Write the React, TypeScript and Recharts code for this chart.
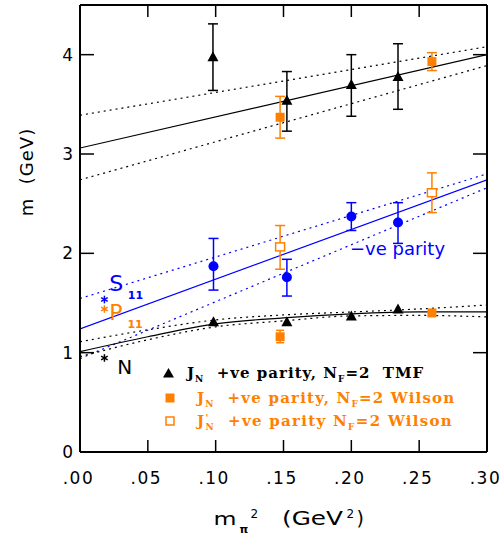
import React from 'react';
import { ComposedChart, XAxis, YAxis, Scatter, Line, ErrorBar, ReferenceDot, Legend } from 'recharts';

// ---------- axes ----------
const xTicks = [0, 0.05, 0.1, 0.15, 0.2, 0.25, 0.3];
const xTickLabels = ['.00', '.05', '.10', '.15', '.20', '.25', '.30'];
const yTicks = [0, 1, 2, 3, 4];
const yTickLabels = ['0', '1', '2', '3', '4'];

// ---------- data (m_pi^2 in GeV^2, m in GeV) ----------
// upper states, TMF (black triangles)
const tmfUpX = [0.098, 0.1525, 0.2, 0.2344];
const tmfUpM = [3.98, 3.54, 3.7, 3.78];
const tmfUpLo = [3.64, 3.23, 3.38, 3.45];
const tmfUpHi = [4.31, 3.83, 4.0, 4.11];

// upper states, Wilson (orange filled squares)
const wilUpX = [0.1475, 0.2594];
const wilUpM = [3.37, 3.93];
const wilUpLo = [3.16, 3.84];
const wilUpHi = [3.58, 4.02];

// -ve parity (blue circles)
const negX = [0.0984, 0.1525, 0.2, 0.2344];
const negM = [1.87, 1.76, 2.37, 2.31];
const negLo = [1.63, 1.57, 2.23, 2.1];
const negHi = [2.15, 1.94, 2.51, 2.51];

// J'_N +ve parity Wilson (orange open squares)
const wilPrimeX = [0.1475, 0.2594];
const wilPrimeM = [2.065, 2.61];
const wilPrimeLo = [1.84, 2.41];
const wilPrimeHi = [2.28, 2.81];

// J_N +ve parity TMF, nucleon (black triangles)
const tmfLowX = [0.0984, 0.1525, 0.2, 0.2344];
const tmfLowM = [1.31, 1.31, 1.37, 1.44];

// J_N +ve parity Wilson, nucleon (orange filled squares)
const wilLowX = [0.1475, 0.2594];
const wilLowM = [1.16, 1.4];
const wilLowLo = [1.1, 1.37];
const wilLowHi = [1.225, 1.43];

// physical points
const physX = [0.018];
const physS11 = [1.535];
const physP11 = [1.44];
const physN = [0.947];

// fits
const lineEndsX = [0, 0.3];
const upFit = [3.06, 4.0];
const upFitHi = [3.39, 4.08];
const upFitLo = [2.74, 3.89];
const negFit = [1.24, 2.74];
const negFitHi = [1.545, 2.8];
const negFitLo = [0.94, 2.66];
const curveX = [0, 0.05, 0.1, 0.15, 0.2, 0.25, 0.3];
const lowFit = [1.01, 1.16, 1.29, 1.35, 1.39, 1.41, 1.41];
const lowFitHi = [1.11, 1.23, 1.33, 1.38, 1.41, 1.44, 1.48];
const lowFitLo = [0.96, 1.13, 1.26, 1.32, 1.37, 1.375, 1.36];

// ---------- helpers ----------
const pts = (xs: number[], ms: number[], lo?: number[], hi?: number[]) =>
  xs.map((x, i) => ({ x, y: ms[i], err: lo && hi ? [ms[i] - lo[i], hi[i] - ms[i]] : [0, 0] }));
const line = (xs: number[], ys: number[]) => xs.map((x, i) => ({ x, y: ys[i] }));

const BLACK = '#000000';
const ORANGE = '#ff8000';
const BLUE = '#0000ff';
const SANS = '"DejaVu Sans", sans-serif';
const SERIF = '"DejaVu Serif", serif';

const Tri = (p: any) => (
  <polygon points={`${p.cx},${p.cy - 5.5} ${p.cx - 5.5},${p.cy + 4.5} ${p.cx + 5.5},${p.cy + 4.5}`} fill={BLACK} />
);
const Dot = (p: any) => <circle cx={p.cx} cy={p.cy} r={5} fill={BLUE} />;
const FSq = (p: any) => <rect x={p.cx - 4.5} y={p.cy - 4.5} width={9} height={9} fill={ORANGE} />;
const OSq = (p: any) => (
  <rect x={p.cx - 4.5} y={p.cy - 4} width={9} height={8} fill="#fff" stroke={ORANGE} strokeWidth={1.5} />
);
const star = (color: string) => (p: any) => {
  const r = 3.8;
  const dx = r * 0.866;
  const dy = r * 0.5;
  return (
    <g stroke={color} strokeWidth={1.5}>
      <line x1={p.cx} y1={p.cy - r} x2={p.cx} y2={p.cy + r} />
      <line x1={p.cx - dx} y1={p.cy - dy} x2={p.cx + dx} y2={p.cy + dy} />
      <line x1={p.cx - dx} y1={p.cy + dy} x2={p.cx + dx} y2={p.cy - dy} />
    </g>
  );
};

const BottomTick = (p: any) => (
  <g>
    <line x1={p.x} x2={p.x} y1={p.y} y2={p.y - 12} stroke={BLACK} strokeWidth={1.5} />
    <text x={p.x - 1.5} y={p.y + 32} textAnchor="middle" fontFamily={SANS} fontSize={17} letterSpacing={1.5} fill={BLACK}>
      {xTickLabels[xTicks.indexOf(p.payload.value)]}
    </text>
  </g>
);
const TopTick = (p: any) => <line x1={p.x} x2={p.x} y1={p.y} y2={p.y + 12} stroke={BLACK} strokeWidth={1.5} />;
const LeftTick = (p: any) => (
  <g>
    <line x1={p.x} x2={p.x + 14} y1={p.y} y2={p.y} stroke={BLACK} strokeWidth={1.5} />
    <text x={p.x - 7} y={p.y + 6} textAnchor="end" fontFamily={SANS} fontSize={17} fill={BLACK}>
      {yTickLabels[yTicks.indexOf(p.payload.value)]}
    </text>
  </g>
);
const RightTick = (p: any) => <line x1={p.x} x2={p.x - 14} y1={p.y} y2={p.y} stroke={BLACK} strokeWidth={1.5} />;

const XLabel = (p: any) => {
  const vb = p.viewBox;
  const c = vb.x + vb.width / 2; // plot centre
  const base = vb.y + 72.5;
  return (
    <text fontFamily={SANS} fontSize={18} fill={BLACK}>
      <tspan x={c - 70} y={base} textLength={23} lengthAdjust="spacingAndGlyphs">m</tspan>
      <tspan x={c - 44} y={base + 8} fontSize={11} fontWeight="bold">π</tspan>
      <tspan x={c - 33} y={base - 7} fontSize={12}>2</tspan>
      <tspan x={c - 1.5} y={base} fontSize={19} textLength={61} lengthAdjust="spacingAndGlyphs">(GeV</tspan>
      <tspan x={c + 63} y={base - 7} fontSize={12}>2</tspan>
      <tspan x={c + 73} y={base} fontSize={19}>)</tspan>
    </text>
  );
};
const YLabel = () => (
  <text x={33} y={172} transform="rotate(-90 33 172)" textAnchor="middle" fontFamily={SANS} fontSize={18} letterSpacing={1} fill={BLACK}>
    {'m\u00a0\u00a0(GeV)'}
  </text>
);

const textShape = (txt: string, color: string, size: number, bold = false) => (p: any) => (
  <text x={p.cx} y={p.cy} fontFamily={SANS} fontSize={size} fontWeight={bold ? 'bold' : 'normal'} fill={color}>
    {txt}
  </text>
);

const LegendBox = () => (
  <svg width={502} height={538} style={{ position: 'absolute', left: 0, top: 0, pointerEvents: 'none' }}>
    <polygon points="168.5,368 163,377.5 174,377.5" fill={BLACK} />
    <text x={187} y={378} fontFamily={SERIF} fontWeight="bold" fontSize={15} letterSpacing={1} fill={BLACK}>
      J<tspan fontSize={9} dy={4}>N</tspan>
      <tspan dy={-4}>{'\u00a0\u00a0+ve parity, N'}</tspan>
      <tspan fontSize={9} dy={4}>F</tspan>
      <tspan dy={-4}>{'=2\u00a0\u00a0TMF'}</tspan>
    </text>
    <rect x={165.5} y={393.5} width={9} height={9} fill={ORANGE} />
    <text x={197} y={403} fontFamily={SERIF} fontWeight="bold" fontSize={15} letterSpacing={1.2} fill={ORANGE}>
      J<tspan fontSize={9} dy={4}>N</tspan>
      <tspan dy={-4}>{'\u00a0\u00a0+ve parity, N'}</tspan>
      <tspan fontSize={9} dy={4}>F</tspan>
      <tspan dy={-4}>{'=2\u00a0Wilson'}</tspan>
    </text>
    <rect x={166} y={417} width={8} height={8} fill="#fff" stroke={ORANGE} strokeWidth={1.5} />
    <text x={197} y={426} fontFamily={SERIF} fontWeight="bold" fontSize={15} letterSpacing={1.3} fill={ORANGE}>
      J<tspan fontSize={9} dy={-5}>'</tspan>
      <tspan fontSize={9} dx={-4} dy={9}>N</tspan>
      <tspan dy={-4}>{'\u00a0\u00a0+ve parity N'}</tspan>
      <tspan fontSize={9} dy={4}>F</tspan>
      <tspan dy={-4}>{'=2\u00a0Wilson'}</tspan>
    </text>
  </svg>
);

export default function App() {
  return (
    <div style={{ position: 'absolute', left: 0, top: 0, width: 502, height: 538, background: '#fff' }}>
      <ComposedChart width={502} height={538} margin={{ top: 0, right: 0, bottom: 0, left: 0 }}>
        <XAxis
          dataKey="x"
          type="number"
          domain={[0, 0.3]}
          ticks={xTicks}
          interval={0}
          allowDataOverflow
          height={86}
          tickSize={0}
          tickMargin={0}
          tickLine={false}
          tick={BottomTick}
          axisLine={{ stroke: BLACK, strokeWidth: 2 }}
          label={XLabel}
        />
        <XAxis
          xAxisId="t"
          orientation="top"
          dataKey="x"
          type="number"
          domain={[0, 0.3]}
          ticks={xTicks}
          interval={0}
          allowDataOverflow
          height={5}
          tickSize={0}
          tickMargin={0}
          tickLine={false}
          tick={TopTick}
          axisLine={{ stroke: BLACK, strokeWidth: 2 }}
        />
        <YAxis
          dataKey="y"
          type="number"
          domain={[0, 4.5]}
          ticks={yTicks}
          interval={0}
          allowDataOverflow
          width={80}
          tickSize={0}
          tickMargin={0}
          tickLine={false}
          tick={LeftTick}
          axisLine={{ stroke: BLACK, strokeWidth: 2 }}
          label={YLabel}
        />
        <YAxis
          yAxisId="r"
          orientation="right"
          dataKey="y"
          type="number"
          domain={[0, 4.5]}
          ticks={yTicks}
          interval={0}
          allowDataOverflow
          width={15}
          tickSize={0}
          tickMargin={0}
          tickLine={false}
          tick={RightTick}
          axisLine={{ stroke: BLACK, strokeWidth: 2 }}
        />

        <Line data={line(lineEndsX, upFit)} dataKey="y" type="linear" stroke={BLACK} strokeWidth={1.2} dot={false} isAnimationActive={false} />
        <Line data={line(lineEndsX, upFitHi)} dataKey="y" type="linear" stroke={BLACK} strokeWidth={1.2} strokeDasharray="2 4" dot={false} isAnimationActive={false} />
        <Line data={line(lineEndsX, upFitLo)} dataKey="y" type="linear" stroke={BLACK} strokeWidth={1.2} strokeDasharray="2 4" dot={false} isAnimationActive={false} />
        <Line data={line(lineEndsX, negFit)} dataKey="y" type="linear" stroke={BLUE} strokeWidth={1.2} dot={false} isAnimationActive={false} />
        <Line data={line(lineEndsX, negFitHi)} dataKey="y" type="linear" stroke={BLUE} strokeWidth={1.2} strokeDasharray="2 4" dot={false} isAnimationActive={false} />
        <Line data={line(lineEndsX, negFitLo)} dataKey="y" type="linear" stroke={BLUE} strokeWidth={1.2} strokeDasharray="2 4" dot={false} isAnimationActive={false} />
        <Line data={line(curveX, lowFit)} dataKey="y" type="monotone" stroke={BLACK} strokeWidth={1.2} dot={false} isAnimationActive={false} />
        <Line data={line(curveX, lowFitHi)} dataKey="y" type="monotone" stroke={BLACK} strokeWidth={1.2} strokeDasharray="2 4" dot={false} isAnimationActive={false} />
        <Line data={line(curveX, lowFitLo)} dataKey="y" type="monotone" stroke={BLACK} strokeWidth={1.2} strokeDasharray="2 4" dot={false} isAnimationActive={false} />

        <Scatter data={pts(tmfUpX, tmfUpM, tmfUpLo, tmfUpHi)} dataKey="y" shape={Tri} isAnimationActive={false}>
          <ErrorBar dataKey="err" direction="y" width={5} stroke={BLACK} strokeWidth={1.5} />
        </Scatter>
        <Scatter data={pts(wilUpX, wilUpM, wilUpLo, wilUpHi)} dataKey="y" shape={FSq} isAnimationActive={false}>
          <ErrorBar dataKey="err" direction="y" width={5} stroke={ORANGE} strokeWidth={1.5} />
        </Scatter>
        <Scatter data={pts(negX, negM, negLo, negHi)} dataKey="y" shape={Dot} isAnimationActive={false}>
          <ErrorBar dataKey="err" direction="y" width={5} stroke={BLUE} strokeWidth={1.5} />
        </Scatter>
        <Scatter data={pts(wilPrimeX, wilPrimeM, wilPrimeLo, wilPrimeHi)} dataKey="y" shape={OSq} isAnimationActive={false}>
          <ErrorBar dataKey="err" direction="y" width={5} stroke={ORANGE} strokeWidth={1.5} />
        </Scatter>
        <Scatter data={pts(tmfLowX, tmfLowM)} dataKey="y" shape={Tri} isAnimationActive={false} />
        <Scatter data={pts(wilLowX, wilLowM, wilLowLo, wilLowHi)} dataKey="y" shape={FSq} isAnimationActive={false}>
          <ErrorBar dataKey="err" direction="y" width={4} stroke={ORANGE} strokeWidth={1.5} />
        </Scatter>
        <Scatter data={pts(physX, physS11)} dataKey="y" shape={star(BLUE)} isAnimationActive={false} />
        <Scatter data={pts(physX, physP11)} dataKey="y" shape={star(ORANGE)} isAnimationActive={false} />
        <Scatter data={pts(physX, physN)} dataKey="y" shape={star(BLACK)} isAnimationActive={false} />

        <ReferenceDot x={0.0215} y={1.62} r={1} ifOverflow="visible" shape={textShape('S', BLUE, 22)} />
        <ReferenceDot x={0.0352} y={1.545} r={1} ifOverflow="visible" shape={textShape('11', BLUE, 11, true)} />
        <ReferenceDot x={0.0215} y={1.326} r={1} ifOverflow="visible" shape={textShape('P', ORANGE, 22)} />
        <ReferenceDot x={0.035} y={1.253} r={1} ifOverflow="visible" shape={textShape('11', ORANGE, 11, true)} />
        <ReferenceDot x={0.0275} y={0.79} r={1} ifOverflow="visible" shape={textShape('N', BLACK, 20)} />
        <ReferenceDot x={0.199} y={1.98} r={1} ifOverflow="visible" shape={textShape('\u2212ve parity', BLUE, 18)} />

        <Legend layout="vertical" align="center" verticalAlign="middle" content={LegendBox} wrapperStyle={{ left: 0, top: 0, width: 502, height: 538 }} />
      </ComposedChart>
    </div>
  );
}
